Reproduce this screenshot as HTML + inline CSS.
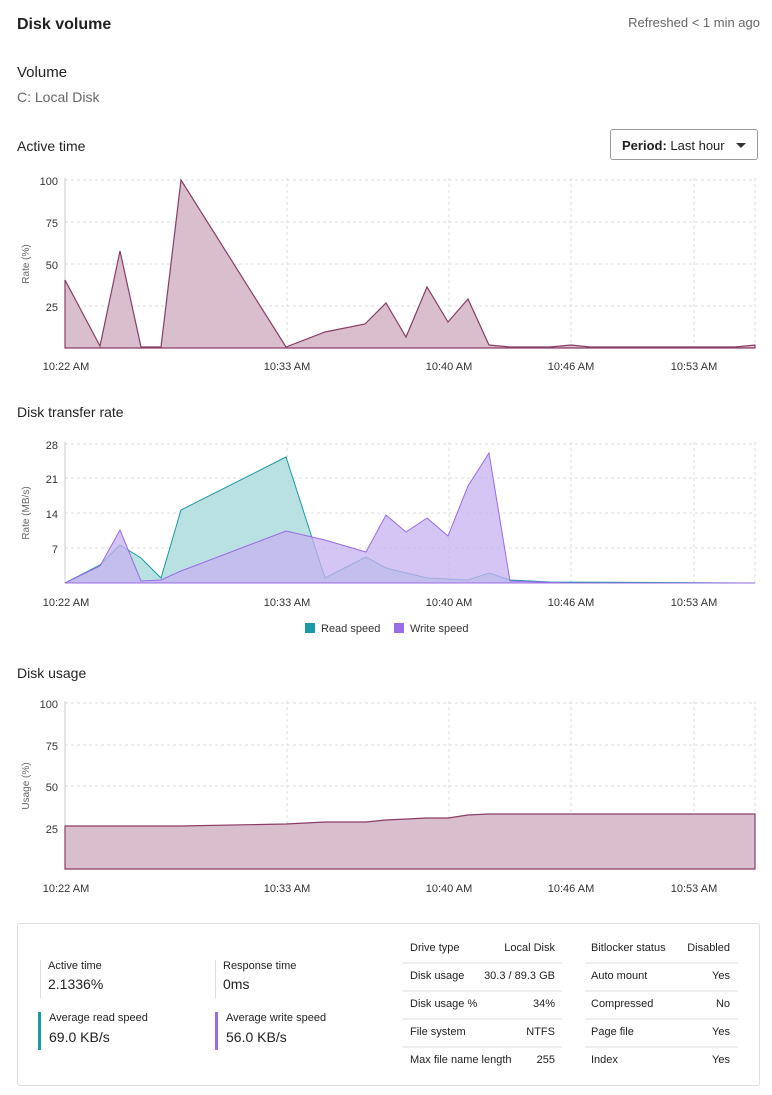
<!DOCTYPE html><html><head><style>
body{margin:0;width:772px;height:1095px;background:#fff;font-family:"Liberation Sans",sans-serif;color:#222;position:relative;overflow:hidden}
.a{position:absolute;white-space:nowrap}
svg text{font-family:"Liberation Sans",sans-serif}
.k{font-size:11px;color:#222}
</style></head><body>
<div class="a" style="left:17px;top:16px;font-size:16px;font-weight:bold;color:#222">Disk volume</div>
<div class="a" style="right:12px;top:15px;font-size:13px;color:#666">Refreshed &lt; 1 min ago</div>
<div class="a" style="left:17px;top:64px;font-size:15px">Volume</div>
<div class="a" style="left:17px;top:89px;font-size:14px;color:#666">C: Local Disk</div>
<div class="a" style="left:17px;top:138px;font-size:14px">Active time</div>
<div class="a" style="left:610px;top:129px;width:148px;height:31px;border:1px solid #999;border-radius:3px;font-size:13px;line-height:31px;box-sizing:border-box;padding-left:11px"><b>Period:</b> Last hour<span style="position:absolute;right:11px;top:13px;border:5px solid transparent;border-top:5px solid #333;border-bottom:0"></span></div>
<div class="a" style="left:17px;top:404px;font-size:14px">Disk transfer rate</div>
<div class="a" style="left:17px;top:665px;font-size:14px">Disk usage</div>
<svg class="a" style="left:0;top:0" width="772" height="920" font-size="11" fill="#333">
<g stroke="#ddd" stroke-dasharray="3,3">
<line x1="65" x2="755" y1="180" y2="180"/><line x1="65" x2="755" y1="222" y2="222"/><line x1="65" x2="755" y1="264" y2="264"/><line x1="65" x2="755" y1="306" y2="306"/>
<line x1="287" x2="287" y1="178" y2="348"/><line x1="449" x2="449" y1="178" y2="348"/><line x1="571" x2="571" y1="178" y2="348"/><line x1="694" x2="694" y1="178" y2="348"/><line x1="755" x2="755" y1="178" y2="348"/>
<line x1="65" x2="755" y1="444" y2="444"/><line x1="65" x2="755" y1="478" y2="478"/><line x1="65" x2="755" y1="513" y2="513"/><line x1="65" x2="755" y1="548" y2="548"/>
<line x1="287" x2="287" y1="442" y2="583"/><line x1="449" x2="449" y1="442" y2="583"/><line x1="571" x2="571" y1="442" y2="583"/><line x1="694" x2="694" y1="442" y2="583"/><line x1="755" x2="755" y1="442" y2="583"/>
<line x1="65" x2="755" y1="703" y2="703"/><line x1="65" x2="755" y1="745" y2="745"/><line x1="65" x2="755" y1="786" y2="786"/><line x1="65" x2="755" y1="828" y2="828"/>
<line x1="287" x2="287" y1="701" y2="869"/><line x1="449" x2="449" y1="701" y2="869"/><line x1="571" x2="571" y1="701" y2="869"/><line x1="694" x2="694" y1="701" y2="869"/><line x1="755" x2="755" y1="701" y2="869"/>
</g>
<g stroke="#ccc"><line x1="65" x2="65" y1="178" y2="348"/><line x1="65" x2="65" y1="442" y2="583"/><line x1="65" x2="65" y1="701" y2="869"/></g>
<polygon fill="#d9bfcd" stroke="#8a3c66" stroke-width="1.2" points="65,348 65,280 100,346 120,251 141,347 161,347 181,180 286,347 325,332 365,324 386,303 406,337 427,287 448,322 468,299 489,345 510,347 550,347 571,345 590,347 735,347 755,345 755,348"/>
<polygon fill="#b3dede" fill-opacity=".9" stroke="#1a9aa6" stroke-width="1" points="65,583 100,565 120,545 141,558 161,578 181,510 286,457 325,578 366,557 386,568 427,578 468,580 489,573 510,580 550,582 755,583"/>
<polygon fill="#c7b2f0" fill-opacity=".75" stroke="#9a6ce6" stroke-width="1" points="65,583 100,566 120,530 141,581 161,580 181,571 286,531 325,540 366,552 386,515 406,532 427,518 448,536 468,486 489,453 510,581 570,583 755,583"/>
<polygon fill="#d9bfcd" stroke="#8a3c66" stroke-width="1.2" points="65,869 65,826 180,826 286,824 325,822 366,822 386,820 427,818 448,818 468,815 489,814 755,814 755,869"/>
<g text-anchor="end"><text x="58" y="185">100</text><text x="58" y="227">75</text><text x="58" y="269">50</text><text x="58" y="311">25</text>
<text x="58" y="449">28</text><text x="58" y="483">21</text><text x="58" y="518">14</text><text x="58" y="553">7</text>
<text x="58" y="708">100</text><text x="58" y="750">75</text><text x="58" y="791">50</text><text x="58" y="833">25</text></g>
<g text-anchor="middle"><text x="66" y="370">10:22 AM</text><text x="287" y="370">10:33 AM</text><text x="449" y="370">10:40 AM</text><text x="571" y="370">10:46 AM</text><text x="694" y="370">10:53 AM</text>
<text x="66" y="606">10:22 AM</text><text x="287" y="606">10:33 AM</text><text x="449" y="606">10:40 AM</text><text x="571" y="606">10:46 AM</text><text x="694" y="606">10:53 AM</text>
<text x="66" y="892">10:22 AM</text><text x="287" y="892">10:33 AM</text><text x="449" y="892">10:40 AM</text><text x="571" y="892">10:46 AM</text><text x="694" y="892">10:53 AM</text></g>
<g font-size="10" fill="#666" text-anchor="middle"><text transform="translate(29,264) rotate(-90)">Rate (%)</text><text transform="translate(29,513) rotate(-90)">Rate (MB/s)</text><text transform="translate(29,786) rotate(-90)">Usage (%)</text></g>
<rect x="305" y="623" width="10" height="10" fill="#1a9aa6"/><text x="321" y="632">Read speed</text>
<rect x="394" y="623" width="10" height="10" fill="#9a6ce6"/><text x="410" y="632">Write speed</text>
</svg>
<div class="a" style="left:17px;top:923px;width:741px;height:161px;border:1px solid #ddd;border-radius:3px"></div>
<div class="a" style="left:40px;top:960px;height:38px;border-left:1px solid #ddd;padding-left:7px"><div style="font-size:11px">Active time</div><div style="font-size:14px;margin-top:4px">2.1336%</div></div>
<div class="a" style="left:215px;top:960px;height:38px;border-left:1px solid #ddd;padding-left:7px"><div style="font-size:11px">Response time</div><div style="font-size:14px;margin-top:4px">0ms</div></div>
<div class="a" style="left:38px;top:1012px;height:38px;border-left:3px solid #1a9aa6;padding-left:8px"><div style="font-size:11px">Average read speed</div><div style="font-size:14px;margin-top:5px">69.0 KB/s</div></div>
<div class="a" style="left:215px;top:1012px;height:38px;border-left:3px solid #9a6ce6;padding-left:8px"><div style="font-size:11px">Average write speed</div><div style="font-size:14px;margin-top:5px">56.0 KB/s</div></div>
<svg class="a" style="left:0;top:930px" width="772" height="150" font-size="11" fill="#222">
<g stroke="#ddd"><line x1="273" x2="380" y1="0" y2="0" stroke="none"/>
<line x1="403" x2="562" y1="33" y2="33"/><line x1="403" x2="562" y1="61" y2="61"/><line x1="403" x2="562" y1="89" y2="89"/><line x1="403" x2="562" y1="117" y2="117"/>
<line x1="585" x2="738" y1="33" y2="33"/><line x1="585" x2="738" y1="61" y2="61"/><line x1="585" x2="738" y1="89" y2="89"/><line x1="585" x2="738" y1="117" y2="117"/></g>
<text x="410" y="21">Drive type</text><text x="410" y="49">Disk usage</text><text x="410" y="77">Disk usage %</text><text x="410" y="105">File system</text><text x="410" y="133">Max file name length</text>
<g text-anchor="end"><text x="555" y="21">Local Disk</text><text x="555" y="49">30.3 / 89.3 GB</text><text x="555" y="77">34%</text><text x="555" y="105">NTFS</text><text x="555" y="133">255</text>
<text x="730" y="21">Disabled</text><text x="730" y="49">Yes</text><text x="730" y="77">No</text><text x="730" y="105">Yes</text><text x="730" y="133">Yes</text></g>
<text x="591" y="21">Bitlocker status</text><text x="591" y="49">Auto mount</text><text x="591" y="77">Compressed</text><text x="591" y="105">Page file</text><text x="591" y="133">Index</text>
</svg>
</body></html>
